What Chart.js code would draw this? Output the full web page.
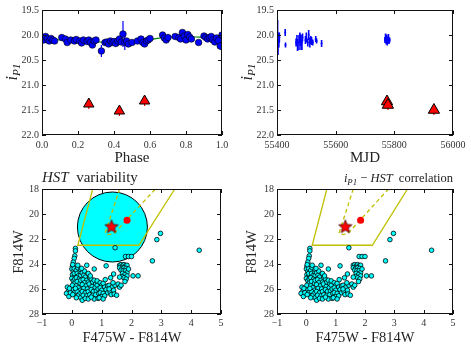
<!DOCTYPE html>
<html>
<head>
<meta charset="utf-8">
<script src="https://cdn.jsdelivr.net/npm/chart.js@4.4.0/dist/chart.umd.min.js"></script>
<style>
body { margin: 0; background: #fff; }
canvas { position: absolute; }
</style>
</head>
<body>
<canvas id="phaseChart" width="235" height="175" style="left:0;top:0"></canvas>
<canvas id="mjdChart" width="236" height="175" style="left:235px;top:0"></canvas>
<canvas id="cmdVar" width="235" height="186" style="left:0;top:165px"></canvas>
<canvas id="cmdCorr" width="236" height="186" style="left:235px;top:165px"></canvas>
<script>
// folded light curve
const phaseVals = [0.005,0.01,0.02,0.03,0.04,0.05,0.06,0.07, 0.11,0.13,0.14,0.16,0.18,0.19,0.21,0.22,0.23, 0.25,0.26,0.27,0.28,0.29,0.30, 0.33,
  0.35,0.36,0.37,0.38,0.39,0.40,0.41,0.42,0.43,0.44,0.45,0.46,0.47,0.48,0.50, 0.53,0.55,0.56,0.57,0.58,0.59,0.60,
  0.67,0.68,0.69,0.70,0.74,0.76,0.77,0.78,0.79,0.80,0.81,0.82,0.83, 0.87,0.90,0.91,0.92,0.93,0.94,0.95,0.96,0.97,0.98,0.99,1.00];
const phaseMags = [20.05,20.10,20.03,20.08,20.12,20.07,20.10,20.12, 20.05,20.08,20.15,20.10,20.12,20.09,20.12,20.16,20.10, 20.13,20.10,20.15,20.20,20.12,20.10, 20.32,
  20.15,20.14,20.18,20.12,20.15,20.13,20.17,20.12,20.08,20.14,19.98,20.15,20.12,20.18,20.15, 20.12,20.08,20.15,20.18,20.12,20.10,20.07,
  20.00,20.06,20.10,20.05,20.03,20.05,20.08,19.95,20.02,20.10,19.99,20.04,20.08, 20.15,20.02,20.05,20.08,20.05,20.03,20.10,20.14,20.06,20.11,20.22,20.00];
const phaseErrs = [0.04,0.05,0.04,0.04,0.05,0.04,0.04,0.04, 0.04,0.04,0.05,0.04,0.04,0.04,0.04,0.05,0.04, 0.04,0.04,0.05,0.06,0.04,0.04, 0.12,
  0.04,0.04,0.05,0.04,0.04,0.04,0.05,0.04,0.04,0.04,0.26,0.15,0.04,0.05,0.04, 0.04,0.04,0.05,0.04,0.04,0.04,0.04,
  0.04,0.04,0.05,0.04,0.04,0.04,0.04,0.05,0.04,0.04,0.04,0.04,0.04, 0.04,0.04,0.04,0.04,0.04,0.04,0.05,0.05,0.04,0.04,0.08,0.06];
const curvePhase = [0,0.1,0.2,0.3,0.4,0.5,0.6,0.7,0.8,0.9,1.0];
const curveMags = [20.07,20.10,20.13,20.14,20.14,20.13,20.09,20.04,20.03,20.05,20.08];
const dropPhase = [0.26,0.43,0.57];
const dropMags = [21.38,21.52,21.32];
const dropErrs = [0.1,0.1,0.1];

// light curve vs time
const mjdVals = [55400,55402,55403,55405,55406,55408, 55428,55429,
  55465,55468,55470,55475,55478,55480,55482,55485,55487,
  55497,55500,55505,55508,55512,55515,55518,55522, 55532,55535, 55552,
  55768,55770,55772,55774,55776,55778,55780,55782,55784];
const mjdMags = [20.10,20.05,20.20,20.15,20.10,20.05, 19.95,20.20,
  20.15,20.10,20.20,20.15,20.05,20.10,20.20,20.15,20.05,
  20.10,20.05,20.15,20.00,20.15,20.10,20.12,20.15, 20.08,20.12, 20.17,
  20.10,20.05,20.12,20.08,20.15,20.10,20.05,20.12,20.10];
const mjdErrs = [0.25,0.35,0.20,0.10,0.15,0.10, 0.07,0.05,
  0.08,0.10,0.12,0.15,0.10,0.12,0.10,0.15,0.08,
  0.08,0.10,0.08,0.10,0.10,0.08,0.08,0.06, 0.06,0.05, 0.07,
  0.06,0.08,0.07,0.09,0.06,0.08,0.07,0.06,0.05];
const dropMjd = [55775,55778,55935];
const dropMjdMags = [21.33,21.40,21.50];
const dropMjdErrs = [0.1,0.1,0.1];

// colour-magnitude diagram
const colorVals = [-0.15,-0.12,-0.18,-0.10,-0.05,-0.08,
  0.02,0.00,0.05,0.02,0.08,0.00,0.05,0.10,0.02,0.08,0.06,0.10,0.03,0.08,0.10,0.12,0.12,0.10,0.08,0.05,0.03,
  0.15,0.20,0.18,0.22,0.15,0.25,0.18,0.28,0.15,0.22,0.28,0.18,0.25,0.20,0.30,0.15,0.28,0.30,0.12,0.30,0.20,0.30,
  0.35,0.40,0.45,0.38,0.50,0.42,0.55,0.35,0.48,0.58,0.40,0.52,0.35,0.45,0.55,0.38,0.50,0.60,0.35,0.45,0.55,0.50,0.55,0.42,0.60,0.33,
  0.65,0.70,0.75,0.80,0.68,0.78,0.85,0.65,0.72,0.82,0.88,0.70,0.80,0.75,0.65,0.90,0.75,0.85,0.62,0.88,
  0.95,1.00,1.05,0.95,1.10,1.00,1.15,0.95,1.05,1.20,1.00,1.10,0.92,1.20,1.15,1.12,1.05,
  1.25,1.30,1.35,1.28,1.40,1.45,1.32,1.42,1.38,1.40,1.30,1.50,1.25,1.45,
  1.60,1.65,1.70,1.75,1.80,1.85,1.60,1.68,1.75,1.82,1.65,1.72,1.80,1.85,1.70,1.78,1.68,1.85,1.75,1.82,1.90,1.78,1.60,1.55,1.60,1.65,1.80,1.90,2.00,2.05,2.22,
  2.70,2.85,2.97,4.27];
const f814Vals = [25.85,26.20,26.35,26.60,26.30,25.95,
  24.20,24.40,24.60,24.85,25.00,25.15,25.35,25.50,25.70,24.75,26.05,26.25,26.45,24.35,25.20,22.75,22.95,23.35,23.55,23.85,24.05,
  24.50,24.30,24.75,24.95,25.10,25.20,25.40,25.55,25.75,25.90,26.10,26.20,26.40,26.55,26.70,26.70,24.60,24.90,25.95,25.30,24.10,24.45,
  24.70,24.90,25.05,25.25,25.30,25.50,25.45,25.65,25.75,25.60,25.95,26.00,26.20,26.30,26.20,26.50,26.55,26.45,26.90,26.75,26.80,24.10,24.75,24.55,25.10,24.35,
  25.20,25.45,25.30,25.60,25.80,25.90,25.70,26.05,26.20,26.15,26.00,26.50,26.45,26.80,26.65,26.35,24.40,25.35,24.95,26.75,
  25.50,25.70,25.55,25.90,25.85,26.10,26.05,26.30,26.35,26.30,26.60,26.55,26.70,25.75,24.15,25.25,26.80,
  25.70,25.95,25.85,26.20,26.10,25.70,26.45,26.40,25.50,24.80,25.10,26.50,26.00,22.70,
  24.10,24.05,24.15,24.05,24.15,24.10,24.30,24.35,24.30,24.35,24.50,24.55,24.55,24.70,24.75,24.85,25.00,24.95,25.10,25.20,24.40,25.40,25.05,25.60,25.85,25.70,23.40,23.40,23.40,24.95,24.95,
  23.75,22.05,21.55,22.90];
const starColor = [1.33], starMag = [21.0];
const dotColor = [1.85], dotMag = [20.5];
const circleColor = [1.36], circleMag = [21.04];
const boxColor = [0.7,0.2,2.25,3.45], boxMag = [18,22.5,22.5,18];
const dashColor = [1.6,1.12,1.2,1.4,2.8], dashMag = [18,21.5,21.65,21.6,18];

const serif = '"Liberation Serif", "DejaVu Serif", serif';
const yellow = '#bfbf00';

function pts(xs, ys) {
  return xs.map((v, i) => ({x: v, y: ys[i]}));
}

function makeStar(r) {
  const c = document.createElement('canvas');
  const s = Math.ceil(r * 2 + 4);
  c.width = s; c.height = s;
  const g = c.getContext('2d');
  g.beginPath();
  for (let i = 0; i < 10; i++) {
    const rr = i % 2 ? r * 0.45 : r;
    const a = -Math.PI / 2 + i * Math.PI / 5;
    const px = s / 2 + Math.cos(a) * rr, py = s / 2 + 0.5 + Math.sin(a) * rr;
    if (i === 0) g.moveTo(px, py); else g.lineTo(px, py);
  }
  g.closePath();
  g.fillStyle = 'red'; g.fill();
  g.strokeStyle = '#400'; g.lineWidth = 0.8; g.stroke();
  return c;
}
const starImg = makeStar(7);

// error bars, drawn under the markers
const errBars = {
  id: 'errBars',
  beforeDatasetsDraw(chart) {
    const {ctx, chartArea: a, scales: {x, y}} = chart;
    ctx.save();
    ctx.beginPath(); ctx.rect(a.left, a.top, a.width, a.height); ctx.clip();
    chart.data.datasets.forEach(ds => {
      if (!ds.errs) return;
      ctx.strokeStyle = ds.errColor;
      ctx.lineWidth = ds.errWidth || 1;
      ds.data.forEach((p, i) => {
        const px = x.getPixelForValue(p.x);
        ctx.beginPath();
        ctx.moveTo(px, y.getPixelForValue(p.y - ds.errs[i]));
        ctx.lineTo(px, y.getPixelForValue(p.y + ds.errs[i]));
        ctx.stroke();
      });
    });
    ctx.restore();
  }
};

// box with inward ticks on all four sides
const frameTicks = {
  id: 'frameTicks',
  afterDatasetsDraw(chart) {
    const {ctx, chartArea: a, scales: {x, y}} = chart;
    ctx.save();
    ctx.strokeStyle = '#111';
    ctx.lineWidth = 1;
    ctx.strokeRect(Math.round(a.left) + 0.5, Math.round(a.top) + 0.5, Math.round(a.width) - 1, Math.round(a.height) - 1);
    ctx.beginPath();
    x.ticks.forEach(t => {
      const px = Math.round(x.getPixelForValue(t.value)) + 0.5;
      ctx.moveTo(px, a.bottom); ctx.lineTo(px, a.bottom - 4);
      ctx.moveTo(px, a.top); ctx.lineTo(px, a.top + 4);
    });
    y.ticks.forEach(t => {
      const py = Math.round(y.getPixelForValue(t.value)) + 0.5;
      ctx.moveTo(a.left, py); ctx.lineTo(a.left + 4, py);
      ctx.moveTo(a.right, py); ctx.lineTo(a.right - 4, py);
    });
    ctx.stroke();
    ctx.restore();
  }
};

function drawRich(ctx, segs, x, y, size, align) {
  const fontOf = s => (s.it ? 'italic ' : '') + (s.sub ? size * 0.7 : size) + 'px ' + serif;
  let w = 0;
  segs.forEach(s => { ctx.font = fontOf(s); w += ctx.measureText(s.t).width; });
  let cx = align === 'center' ? x - w / 2 : align === 'right' ? x - w : x;
  segs.forEach(s => {
    ctx.font = fontOf(s);
    ctx.fillText(s.t, cx, y + (s.sub ? size * 0.25 : 0));
    cx += ctx.measureText(s.t).width;
  });
}

const iP1 = [{t: 'i', it: true}, {t: 'P1', it: true, sub: true}];
const panelText = {
  phaseChart: {x: [[{t: 'Phase'}], 132, 158, 15], y: [iP1, 13, 72, 16]},
  mjdChart: {x: [[{t: 'MJD'}], 130, 158, 15], y: [iP1, 13, 72, 16]},
  cmdVar: {x: [[{t: 'F475W - F814W'}], 132, 173, 14.5], y: [[{t: 'F814W'}], 19, 87, 14.5],
    title: [[{t: 'HST', it: true}, {t: '  variability'}], 42, 17, 15, 'left']},
  cmdCorr: {x: [[{t: 'F475W - F814W'}], 130, 173, 14.5], y: [[{t: 'F814W'}], 17, 87, 14.5],
    title: [[{t: 'i', it: true}, {t: 'P1', it: true, sub: true}, {t: ' \u2212 '}, {t: 'HST', it: true}, {t: '  correlation'}], 218, 17, 12.5, 'right']}
};

const axisText = {
  id: 'axisText',
  afterDraw(chart) {
    const p = panelText[chart.canvas.id];
    const ctx = chart.ctx;
    ctx.save();
    ctx.fillStyle = '#222';
    ctx.textAlign = 'left';
    ctx.textBaseline = 'middle';
    drawRich(ctx, p.x[0], p.x[1], p.x[2], p.x[3], 'center');
    ctx.save();
    ctx.translate(p.y[1], p.y[2]);
    ctx.rotate(-Math.PI / 2);
    drawRich(ctx, p.y[0], 0, 0, p.y[3], 'center');
    ctx.restore();
    if (p.title) {
      ctx.textBaseline = 'alphabetic';
      drawRich(ctx, p.title[0], p.title[1], p.title[2], p.title[3], p.title[4]);
    }
    ctx.restore();
  }
};

Chart.register(errBars, frameTicks, axisText);

function axes(xr, xFmt, yr, yFmt, xH, xPad) {
  const tickFont = {family: serif, size: 10};
  return {
    x: {
      type: 'linear', min: xr[0], max: xr[1],
      ticks: {stepSize: xr[2], callback: xFmt, font: tickFont, color: '#333', padding: xPad, maxRotation: 0, autoSkip: false},
      grid: {display: false, drawTicks: false}, border: {display: false},
      afterFit(s) { s.height = xH; s.paddingLeft = 0; s.paddingRight = 0; }
    },
    y: {
      type: 'linear', reverse: true, min: yr[0], max: yr[1],
      ticks: {stepSize: yr[2], callback: yFmt, font: tickFont, color: '#333', padding: 3, autoSkip: false},
      grid: {display: false, drawTicks: false}, border: {display: false},
      afterFit(s) { s.width = 42; s.paddingTop = 0; s.paddingBottom = 0; }
    }
  };
}

function opts(scales, padding) {
  return {
    responsive: false, animation: false, events: [],
    layout: {padding: padding, autoPadding: false},
    plugins: {legend: {display: false}, tooltip: {enabled: false}},
    scales: scales
  };
}

const fix1 = v => Number(v).toFixed(1);
const plain = v => String(v);
const signed = v => v < 0 ? '\u2212' + Math.abs(v) : String(v);

new Chart('phaseChart', {
  type: 'scatter',
  data: {datasets: [
    {data: pts(dropPhase, dropMags), errs: dropErrs, errColor: 'red', errWidth: 1.2, pointStyle: 'triangle',
      pointRadius: 6, backgroundColor: 'red', borderColor: '#000', borderWidth: 1},
    {data: pts(phaseVals, phaseMags), errs: phaseErrs, errColor: 'blue', errWidth: 1.2, pointRadius: 3.3,
      backgroundColor: 'blue', borderColor: '#000', borderWidth: 0.6},
    {data: pts(curvePhase, curveMags), showLine: true, pointRadius: 0, borderColor: 'green', borderWidth: 1.2,
      cubicInterpolationMode: 'monotone'}
  ]},
  options: opts(axes([0, 1, 0.2], fix1, [19.5, 22, 0.5], fix1, 40, 4), {top: 10, right: 13})
});

new Chart('mjdChart', {
  type: 'scatter',
  data: {datasets: [
    {data: pts(dropMjd, dropMjdMags), errs: dropMjdErrs, errColor: 'red', errWidth: 1.2, pointStyle: 'triangle',
      pointRadius: 6.5, backgroundColor: 'red', borderColor: '#000', borderWidth: 1},
    {data: pts(mjdVals, mjdMags), errs: mjdErrs, errColor: 'blue', errWidth: 1.6, pointRadius: 1,
      backgroundColor: 'blue', borderWidth: 0}
  ]},
  options: opts(axes([55400, 56000, 200], plain, [19.5, 22, 0.5], fix1, 40, 4), {top: 10, right: 18})
});

function cmdSets(withCircle) {
  const sets = [
    {data: pts(starColor, starMag), pointStyle: starImg, pointRadius: 7, order: 0},
    {data: pts(dotColor, dotMag), pointRadius: 3.5, backgroundColor: 'red', borderWidth: 0, order: 1},
    {data: pts(colorVals, f814Vals), pointRadius: 2.3, backgroundColor: 'cyan', borderColor: '#000', borderWidth: 0.8, order: 2},
    {data: pts(boxColor, boxMag), showLine: true, pointRadius: 0, borderColor: yellow, borderWidth: 1.3, order: 3},
    {data: pts(dashColor, dashMag), showLine: true, pointRadius: 0, borderColor: yellow, borderWidth: 1.3, borderDash: [4, 3], order: 3}
  ];
  if (withCircle) {
    sets.push({data: pts(circleColor, circleMag), pointRadius: 35, backgroundColor: 'cyan', borderColor: '#000', borderWidth: 1, order: 4});
  }
  return sets;
}

new Chart('cmdVar', {
  type: 'scatter',
  data: {datasets: cmdSets(true)},
  options: opts(axes([-1, 5, 1], signed, [18, 28, 2], plain, 37, 3), {top: 24, right: 14})
});

new Chart('cmdCorr', {
  type: 'scatter',
  data: {datasets: cmdSets(false)},
  options: opts(axes([-1, 5, 1], signed, [18, 28, 2], plain, 37, 3), {top: 24, right: 18})
});
</script>
</body>
</html>
